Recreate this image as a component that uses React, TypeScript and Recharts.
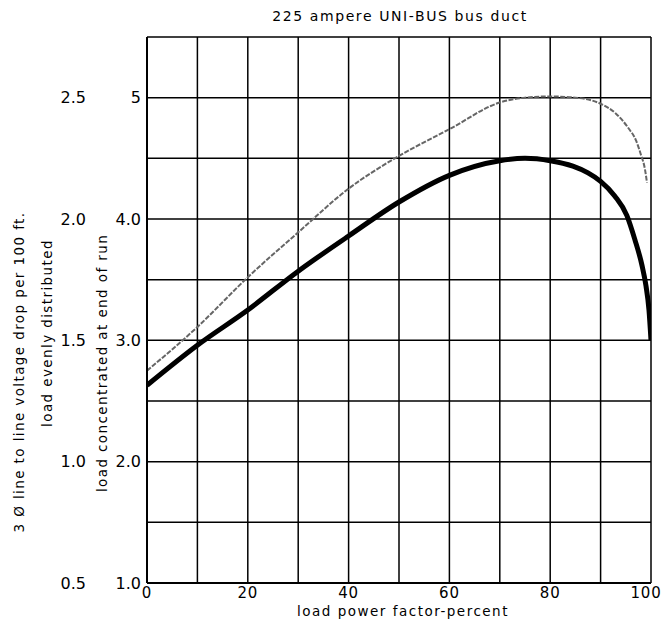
import { CartesianGrid, Line, LineChart, XAxis, YAxis } from 'recharts';

// load power factor (percent) and voltage drop
const pfEven = [0, 10, 20, 30, 40, 50, 60, 70, 75, 80, 85, 90, 93, 95.5, 97, 98, 98.8, 99.2];
const dropEven = [1.375, 1.555, 1.76, 1.945, 2.125, 2.26, 2.37, 2.48, 2.5, 2.505, 2.5, 2.475, 2.435, 2.375, 2.325, 2.265, 2.205, 2.15];
const pfConc = [0, 10, 20, 30, 40, 50, 60, 70, 75, 80, 84.5, 87.5, 90, 92.8, 95.2, 96.8, 98.2, 99, 99.6, 100];
const dropConc = [2.63, 2.96, 3.25, 3.57, 3.86, 4.14, 4.36, 4.48, 4.5, 4.48, 4.435, 4.38, 4.31, 4.19, 4.03, 3.83, 3.62, 3.45, 3.25, 3.0];

const pfTicks = [0, 10, 20, 30, 40, 50, 60, 70, 80, 90, 100];
const concTicks = [1, 1.5, 2, 2.5, 3, 3.5, 4, 4.5, 5, 5.5];
const evenTicks = [0.5, 1, 1.5, 2, 2.5];

const FONT = '"DejaVu Sans", sans-serif';

const evenData = pfEven.map((pf, i) => ({ pf, drop: dropEven[i] }));
const concData = pfConc.map((pf, i) => ({ pf, drop: dropConc[i] }));

const vText = (x: number, y: number, s: string, key?: string) => (
  <text key={key} x={x} y={y} transform={`rotate(-90, ${x}, ${y})`} textAnchor="middle" dominantBaseline="central"
    fontSize={13.5} letterSpacing={1.4} fontFamily={FONT} fill="#000">{s}</text>
);

// x tick: only every 20 is labelled, the last one pulled in so it stays on the page
const PfTick = (p: any) => {
  const v = p.payload.value;
  if (v % 20 !== 0) return null;
  return (
    <text x={p.x + (v === 100 ? -5 : 0)} y={p.y + 13} textAnchor="middle" fontSize={15} letterSpacing={0.8}
      fontFamily={FONT} fill="#000">{v}</text>
  );
};

export default function App() {
  return (
    <div style={{ position: 'absolute', left: 0, top: 0, background: '#fff' }}>
      <LineChart width={663} height={635} margin={{ top: 37, right: 12, bottom: 0, left: 0 }}>
        <CartesianGrid stroke="#000" strokeWidth={1.5} yAxisId="conc" />
        <XAxis
          dataKey="pf"
          type="number"
          domain={[0, 100]}
          ticks={pfTicks}
          tick={<PfTick />}
          tickLine={false}
          tickSize={0}
          tickMargin={2}
          axisLine={{ stroke: '#000', strokeWidth: 2 }}
          height={52}
          allowDataOverflow
          label={{
            content: (p: any) => {
              const vb = p.viewBox;
              return (
                <g>
                  <text x={vb.x + vb.width / 2 + 4} y={vb.y + 33} textAnchor="middle" fontSize={13.5} letterSpacing={1.5}
                    fontFamily={FONT} fill="#000">
                    load  power  factor-percent
                  </text>
                  <text x={400} y={21} textAnchor="middle" fontSize={14} letterSpacing={1.6} fontFamily={FONT} fill="#000">
                    225 ampere UNI-BUS bus duct
                  </text>
                </g>
              );
            },
          }}
        />
        <YAxis
          yAxisId="conc"
          type="number"
          domain={[1, 5.5]}
          ticks={concTicks}
          tickFormatter={(v: number) => (Number.isInteger(v) ? (v === 5 ? '5' : v.toFixed(1)) : '')}
          tick={{ fill: '#000', fontSize: 16, fontFamily: FONT }}
          tickLine={false}
          tickSize={4}
          tickMargin={2}
          axisLine={{ stroke: '#000', strokeWidth: 2 }}
          width={52}
          allowDataOverflow
          label={{
            content: () => vText(102, 363, 'load concentrated at end of run'),
          }}
        />
        <YAxis
          yAxisId="even"
          type="number"
          domain={[0.5, 2.75]}
          ticks={evenTicks}
          tickFormatter={(v: number) => v.toFixed(1)}
          tick={{ fill: '#000', fontSize: 16, fontFamily: FONT }}
          tickLine={false}
          tickSize={0}
          tickMargin={9}
          axisLine={false}
          width={95}
          allowDataOverflow
          label={{
            content: () => (
              <g>
                {vText(19, 372, '3 Ø line to line voltage drop per 100 ft.', 'a')}
                {vText(47, 333, 'load evenly distributed', 'b')}
              </g>
            ),
          }}
        />
        <Line
          yAxisId="even"
          data={evenData}
          dataKey="drop"
          type="monotone"
          stroke="#666"
          strokeWidth={2}
          strokeDasharray="5 1.5"
          dot={false}
          isAnimationActive={false}
        />
        <Line
          yAxisId="conc"
          data={concData}
          dataKey="drop"
          type="monotone"
          stroke="#000"
          strokeWidth={5}
          dot={false}
          isAnimationActive={false}
        />
      </LineChart>
    </div>
  );
}
